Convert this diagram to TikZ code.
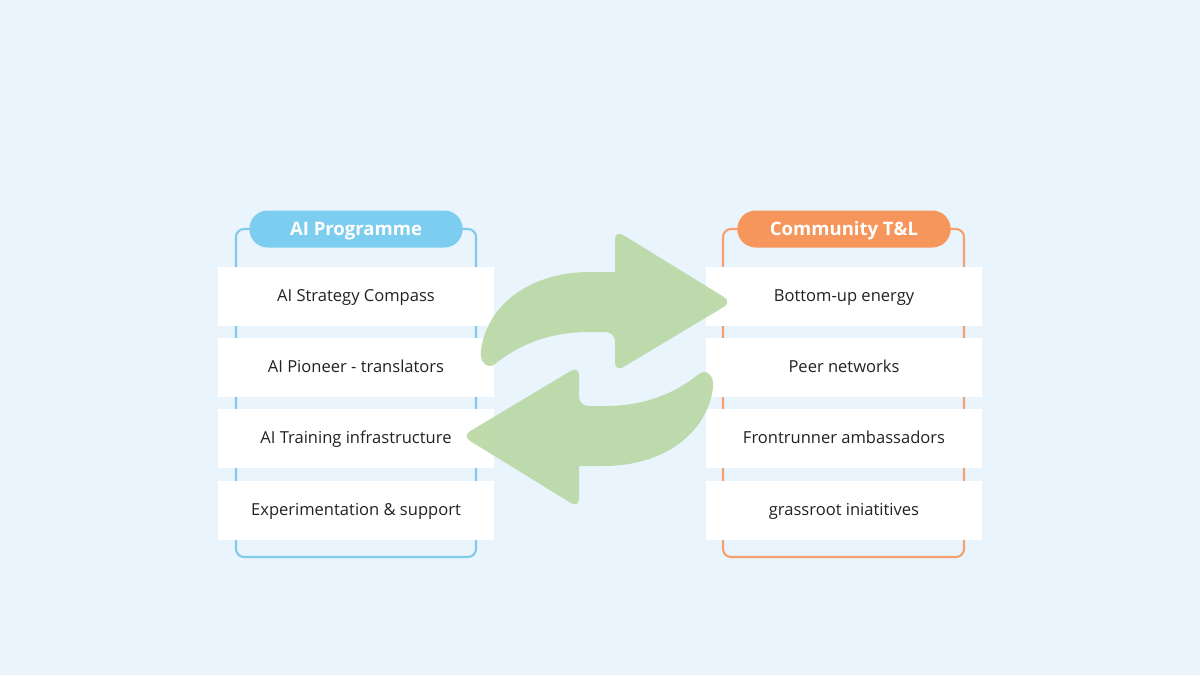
\documentclass[tikz,border=0pt]{standalone}
\usepackage{fontspec}
\setmainfont{Open Sans}
\definecolor{bg}{RGB}{234,244,252}
\definecolor{pillblue}{RGB}{125,205,240}
\definecolor{lineblue}{RGB}{128,204,232}
\definecolor{pillorange}{RGB}{247,150,92}
\definecolor{lineorange}{RGB}{245,160,110}
\definecolor{arrowgreen}{RGB}{186,216,166}
\definecolor{txt}{RGB}{34,34,34}
\tikzset{
  itembox/.style={fill=white, draw=none, minimum width=207pt, minimum height=44.25pt, inner sep=0pt,
    text height=8.9pt, text depth=0pt,
    font=\fontsize{12.4pt}{14pt}\selectfont, text=txt},
  pill/.style={draw=none, minimum width=160pt, minimum height=27.75pt, rounded corners=13.8pt,
    inner sep=0pt, text height=9.9pt, text depth=0pt,
    text=white, font=\fontsize{13.9pt}{16pt}\selectfont\bfseries},
  frame/.style={line width=1.6pt, rounded corners=6pt},
  swaparrow/.style={fill=arrowgreen, fill opacity=0.92, draw=none}
}
\begin{document}
\begin{tikzpicture}[x=0.75pt,y=-0.75pt]
\fill[bg] (0,0) rectangle (1200,675);
\useasboundingbox (0,0) rectangle (1200,675);
% frames
\coordinate (lfa) at (236,229);
\coordinate (lfb) at (476,557);
\coordinate (rfa) at (723,229);
\coordinate (rfb) at (964,557);
\draw[frame, lineblue] (lfa) rectangle (lfb);
\draw[frame, lineorange] (rfa) rectangle (rfb);
% left items
\node[itembox] (l1) at (356,296) {AI Strategy Compass};
\node[itembox] (l2) at (356,367) {AI Pioneer - translators};
\node[itembox] (l3) at (356,438) {AI Training infrastructure};
\node[itembox] (l4) at (356,510) {Experimentation \& support};
% right items
\node[itembox] (r1) at (844,296) {Bottom-up energy};
\node[itembox] (r2) at (844,367) {Peer networks};
\node[itembox] (r3) at (844,438) {Frontrunner ambassadors};
\node[itembox] (r4) at (844,510) {grassroot iniatitives};
% pills
\node[pill, fill=pillblue] (lt) at (356,229) {AI Programme};
\node[pill, fill=pillorange] (rt) at (844,229) {Community T\&L};
% arrows
\coordinate (ctr) at (597,369);
\foreach \ang in {0,180}{
  \fill[swaparrow, rotate around={\ang:(ctr)}]
    (612,272) -- (590,272)
    .. controls (530,272) and (487,305) .. (481,350)
    .. controls (479,362) and (488,370) .. (495,364)
    .. controls (520,344) and (550,332) .. (590,332)
    [rounded corners=7pt] -- (615,332) -- (615,372) -- (732,302) -- (615,230) [sharp corners] -- (615,272) -- cycle;
}
\end{tikzpicture}
\end{document}
